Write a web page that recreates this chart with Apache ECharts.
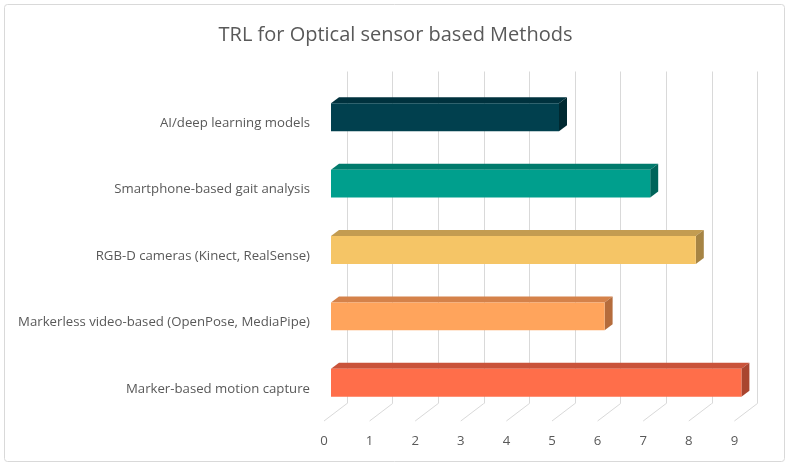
<!DOCTYPE html>
<html>
<head>
<meta charset="utf-8">
<script src="https://cdn.jsdelivr.net/npm/echarts@6/dist/echarts.min.js"></script>
<style>
  html, body { margin: 0; padding: 0; background: #fff; }
  #main { width: 791px; height: 469px; }
</style>
</head>
<body>
<div id="main"></div>
<script>
// data (bottom to top)
var categories = [
    'Marker-based motion capture',
    'Markerless video-based (OpenPose, MediaPipe)',
    'RGB-D cameras (Kinect, RealSense)',
    'Smartphone-based gait analysis',
    'AI/deep learning models'
];
var trlValues = [9, 6, 8, 7, 5];
var tickValues = [0, 1, 2, 3, 4, 5, 6, 7, 8, 9];

// front / top / side shades for each bar
var barColors = [
    ['#FF6E4A', '#C9533A', '#A9452F'],
    ['#FFA45C', '#D5824A', '#B56C3C'],
    ['#F5C566', '#C39C51', '#A68444'],
    ['#009F8D', '#007A6C', '#00645A'],
    ['#01404E', '#00323E', '#002931']
];

var myChart = echarts.init(document.getElementById('main'));

var depthX = 8, depthY = -6;      // bar depth
var wallDX = 23, wallDY = -17.5;  // floor depth

function renderBar(params, api) {
    var cat = api.value(1);
    var start = api.coord([0, cat]);
    var end = api.coord([api.value(0), cat]);
    var h = api.size([0, 1])[1] * 0.42;
    var yt = start[1] - h / 2, yb = start[1] + h / 2;
    var x0 = start[0], x1 = end[0];
    var c = barColors[params.dataIndex];
    return {
        type: 'group',
        children: [
            {
                type: 'polygon',
                shape: { points: [[x0, yt], [x1, yt], [x1 + depthX, yt + depthY], [x0 + depthX, yt + depthY]] },
                style: { fill: c[1] }
            },
            {
                type: 'polygon',
                shape: { points: [[x1, yt], [x1 + depthX, yt + depthY], [x1 + depthX, yb + depthY], [x1, yb]] },
                style: { fill: c[2] }
            },
            {
                type: 'rect',
                shape: { x: x0, y: yt, width: x1 - x0, height: h },
                style: { fill: c[0] }
            }
        ]
    };
}

function renderFloorLine(params, api) {
    var p = api.coord([api.value(0), 0]);
    return {
        type: 'line',
        shape: { x1: p[0], y1: p[1], x2: p[0] + wallDX, y2: p[1] + wallDY },
        style: { stroke: '#D9D9D9', lineWidth: 1 }
    };
}

var labelStyle = { color: '#595959', fontSize: 13.2, fontFamily: 'Open Sans' };

var option = {
    backgroundColor: '#fff',
    animation: false,
    title: {
        text: 'TRL for Optical sensor based Methods',
        left: 'center',
        top: 20,
        textStyle: { color: '#595959', fontSize: 20, fontWeight: 'normal', fontFamily: 'Open Sans' }
    },
    graphic: [{
        type: 'rect',
        shape: { x: 4.5, y: 4.5, width: 780, height: 457, r: 3 },
        style: { fill: null, stroke: '#D9D9D9', lineWidth: 1 },
        silent: true
    }],
    grid: [
        // plane of the bar front faces
        { left: 331, top: 84, width: 410.4, height: 332 },
        // back wall
        { left: 347, top: 71.5, width: 410.4, height: 332 },
        // front floor edge
        { left: 324, top: 89, width: 410.4, height: 332 },
        // category labels (sit a little lower than the bars)
        { left: 331, top: 90, width: 410.4, height: 332 }
    ],
    xAxis: [
        { gridIndex: 0, type: 'value', min: 0, max: 9, interval: 1, show: false },
        { gridIndex: 1, type: 'value', min: 0, max: 9, interval: 1,
          axisLine: { show: false }, axisTick: { show: false }, axisLabel: { show: false },
          splitLine: { show: true, lineStyle: { color: '#D9D9D9', width: 1 } } },
        { gridIndex: 2, type: 'value', min: 0, max: 9, interval: 1,
          axisLine: { show: false }, axisTick: { show: false }, splitLine: { show: false },
          axisLabel: Object.assign({ margin: 14 }, labelStyle) },
        { gridIndex: 3, type: 'value', min: 0, max: 9, interval: 1, show: false }
    ],
    yAxis: [
        { gridIndex: 0, type: 'category', data: categories, show: false },
        { gridIndex: 1, type: 'value', min: 0, max: 1, show: false },
        { gridIndex: 2, type: 'value', min: 0, max: 1, show: false },
        { gridIndex: 3, type: 'category', data: categories,
          axisLine: { show: false }, axisTick: { show: false }, splitLine: { show: false },
          axisLabel: Object.assign({ margin: 21 }, labelStyle) }
    ],
    series: [
        {
            type: 'custom',
            name: 'floor',
            xAxisIndex: 2, yAxisIndex: 2,
            renderItem: renderFloorLine,
            data: tickValues.map(function (v) { return [v]; }),
            silent: true
        },
        {
            type: 'custom',
            name: 'TRL',
            xAxisIndex: 0, yAxisIndex: 0,
            renderItem: renderBar,
            encode: { x: 0, y: 1 },
            data: trlValues.map(function (v, i) { return [v, i]; }),
            z: 5
        }
    ]
};

myChart.setOption(option);
</script>
</body>
</html>
